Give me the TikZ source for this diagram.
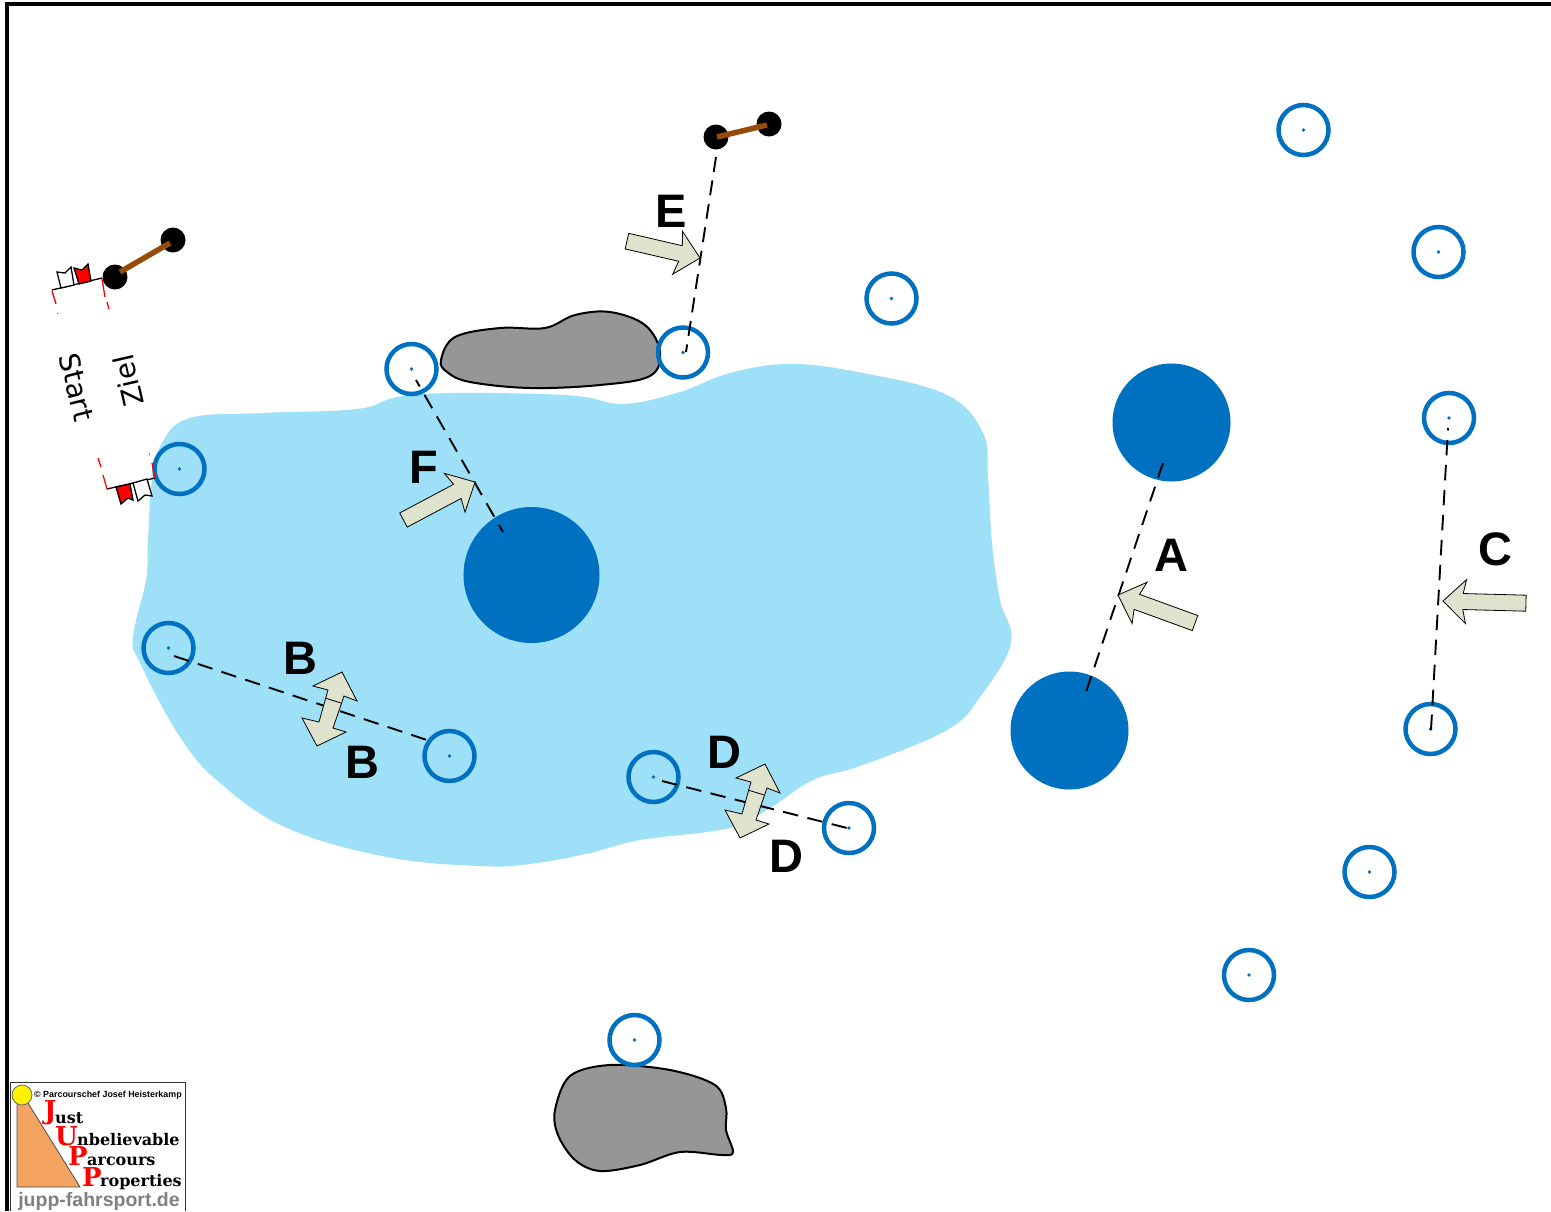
\documentclass[tikz,border=0pt]{standalone}
\usepackage{fontspec}
\setmainfont{Liberation Sans}
\newfontfamily\dejavu{DejaVu Sans}
\newfontfamily\dserif{DejaVu Serif}
\definecolor{buoyblue}{HTML}{0070C0}
\definecolor{lakeblue}{HTML}{9FE0F9}
\definecolor{rockgray}{HTML}{969696}
\definecolor{arrowfill}{HTML}{DFE3CD}
\definecolor{barbrown}{HTML}{964B0A}
\definecolor{logoorange}{HTML}{F4A460}
\tikzset{
  buoy/.style={circle,draw=buoyblue,line width=4.5pt,minimum size=50pt,inner sep=0pt},
  bigbuoy/.style={circle,fill=buoyblue,inner sep=0pt},
  post/.style={circle,fill=black,minimum size=25pt,inner sep=0pt},
  bar/.style={barbrown,line width=5.5pt},
  route/.style={black,line width=1.9pt,dash pattern=on 15.5pt off 9.5pt},
  course/.style={font=\bfseries\fontsize{47}{47}\selectfont,inner sep=0pt},
  fat/.style={draw=black,line width=0.8pt,fill=arrowfill,line join=miter},
  rock/.style={draw=black,line width=2pt,fill=rockgray},
  gate/.style={red,line width=1.3pt},
  flagline/.style={black,line width=1.3pt},
  gatetext/.style={font=\dejavu\fontsize{28}{28}\selectfont,inner sep=0pt},
  bigl/.style={anchor=base west,inner sep=0pt,text=red,font=\dserif\bfseries\fontsize{26}{26}\selectfont},
  smalll/.style={anchor=base west,inner sep=0pt,text=black,font=\dserif\bfseries\fontsize{16}{16}\selectfont},
}
\newcommand{\singlearrow}[4]{%
  \begin{scope}[shift={(#1,#2)},rotate=#3]
    \draw[fat] (0,0) -- (-23,22) -- (-20,8) -- (-#4,8) -- (-#4,-8) -- (-20,-8) -- (-23,-22) -- cycle;
  \end{scope}}
\newcommand{\doublearrow}[2]{%
  \begin{scope}[shift={(#1,#2)}]
    \draw[fat] (342,672) -- (357,701) -- (344,696) -- (333,728) -- (346,732) -- (317,746) -- (302,718) -- (319,722) -- (328,690) -- (313,686) -- cycle;
    \draw[black,line width=0.8pt] (325,698) -- (341,703);
  \end{scope}}
\begin{document}
\begin{tikzpicture}[x=1pt,y=-1pt]
\useasboundingbox (0,0) rectangle (1551,1211);
\fill[white] (0,0) rectangle (1551,1211);
% border
\draw[black,line width=4pt] (7,1211) -- (7,4) -- (1551,4);
% lake
\fill[lakeblue] plot[smooth cycle,tension=0.65] coordinates {
 (148,540) (152,480) (162,443) (190,418) (263,413) (357,409)
 (397,397) (450,393) (540,394) (585,397) (625,404) (680,392) (730,373) (790,364)
 (863,373) (947,395) (983,433) (988,477) (992,543) (1000,600) (1011,643)
 (980,697) (947,730) (863,765) (813,780) (770,808) (730,828)
 (640,840) (590,853) (530,864) (480,866) (387,857) (287,828) (220,783)
 (180,737) (140,663) (133,637) (146,580)};
% rocks
\draw[rock] plot[smooth cycle,tension=0.6] coordinates {
 (441,360) (455,337) (500,328) (545,328) (575,315) (610,312) (645,325) (660,352) (650,376) (600,385) (530,388) (470,382) (447,372)};
\draw[rock] plot[smooth cycle,tension=0.55] coordinates {
 (555,1110) (570,1076) (610,1065) (670,1070) (715,1085) (726,1108) (726,1130) (733,1152) (722,1155) (680,1152) (640,1165) (600,1171) (575,1160) (558,1135)};
% big buoys
\node[bigbuoy,minimum size=118pt] (bigA) at (1171.5,422.5) {};
\node[bigbuoy,minimum size=136pt] (bigF) at (531.5,575) {};
\node[bigbuoy,minimum size=118pt] (bigB) at (1069.5,730.5) {};
% buoys
\foreach \n/\x/\y in {1/1303.5/130,2/1438.5/252,3/891.5/298.5,4/683/352.5,5/411.5/369,6/179.5/469,7/1449/418,
  8/168.5/648,9/449.5/756,10/653.5/777,11/849/828,12/1430.5/729,13/1369.5/872,14/1249/975,15/634.5/1040}{
  \node[buoy] (b\n) at (\x,\y) {};
  \fill[buoyblue] (b\n.center) circle (1.8pt);
}
% posts
\node[post] (p1) at (115,277) {};
\node[post] (p2) at (173,240) {};
\draw[bar] (120,272) -- (170,243);
\node[post] (p3) at (716,137) {};
\node[post] (p4) at (769,124) {};
\draw[bar] (717,137) -- (767,125);
% flags top
\draw[flagline] (52,290) -- (102,278);
\draw[flagline,fill=white] (57,272) -- (65,273) -- (71,267) -- (74,285) -- (61,288) -- cycle;
\draw[flagline,fill=red] (74,268) -- (82,270) -- (88,264) -- (91,281) -- (79,284) -- cycle;
\draw[gate] (52,291) -- (56,304) (57.5,313) -- (58,313.5) (102,279) -- (105,297) (107,302) -- (109,309);
% flags bottom
\draw[flagline] (107,489) -- (155,478);
\draw[flagline,fill=red] (116,487) -- (130,484) -- (133,500) -- (128,498) -- (121,504) -- cycle;
\draw[flagline,fill=white] (133,483) -- (147,479) -- (152,496) -- (145,495) -- (138,501) -- cycle;
\draw[gate] (98,458) -- (101,467) (103,475) -- (107,489) (152,463) -- (155,478) (149,454) -- (149.8,454);
\node[gatetext,rotate=-76] (start) at (77,387) {Start};
\node[gatetext,rotate=103] (ziel) at (128,381) {Ziel};
% route lines
\coordinate (a1) at (1163,463); \coordinate (a2) at (1086,692);
\coordinate (b1s) at (174,656); \coordinate (b2s) at (433,742);
\coordinate (c1) at (1448,428); \coordinate (c2) at (1431,730);
\coordinate (d1) at (662,781); \coordinate (d2) at (851,829);
\coordinate (e1) at (716,157); \coordinate (e2) at (686,352);
\coordinate (f1) at (416,380); \coordinate (f2) at (503,532);
\draw[route] (a1) -- (a2);
\draw[route] (b1s) -- (b2s);
\draw[route,dash phase=13pt] (c1) -- (c2);
\draw[route] (d1) -- (d2);
\draw[route,dash pattern=on 15pt off 8.7pt] (e1) -- (e2);
\draw[route,dash phase=8pt] (f1) -- (f2);
% arrows
\singlearrow{1118}{595}{160}{82}
\singlearrow{1443}{601}{178.5}{83}
\singlearrow{700}{258}{-13}{75}
\singlearrow{475}{482}{28}{81}
\doublearrow{0}{0}
\doublearrow{423}{92}
% labels
\node[course] (lA) at (1171,555) {A};
\node[course] (lB1) at (300,658) {B};
\node[course] (lB2) at (362,762) {B};
\node[course] (lC) at (1495,549) {C};
\node[course] (lD1) at (724,752) {D};
\node[course] (lD2) at (786,856) {D};
\node[course] (lE) at (671,211) {E};
\node[course] (lF) at (424,467) {F};
% logo
\fill[white] (10,1082) rectangle (185,1211);
\draw[black!80,line width=1pt] (10,1211) -- (10,1082) -- (185,1082) -- (185,1211);
\draw[black!70,line width=0.8pt,fill=logoorange] (17,1103) -- (28,1103) -- (80,1187) -- (17,1187) -- cycle;
\draw[black!60,line width=0.8pt,fill=yellow] (22,1095) circle (10pt);
\node[anchor=west,inner sep=0pt,font=\bfseries\fontsize{8.9}{9}\selectfont] (lgtop) at (34,1095.5) {© Parcourschef Josef Heisterkamp};
\node[bigl] (lJ) at (44,1119) {J}; \node[smalll] (lJu) at (55,1123) {ust};
\node[bigl] (lU) at (55,1145) {U}; \node[smalll] (lUn) at (77,1145) {nbelievable};
\node[bigl] (lP) at (68,1165) {P}; \node[smalll] (lPa) at (87,1165) {arcours};
\node[bigl] (lPr) at (82,1186) {P}; \node[smalll] (lPro) at (100,1186) {roperties};
\node[inner sep=0pt,text=black!50,font=\bfseries\fontsize{19.5}{20}\selectfont] (lgweb) at (99,1201) {jupp-fahrsport.de};
\end{tikzpicture}
\end{document}
